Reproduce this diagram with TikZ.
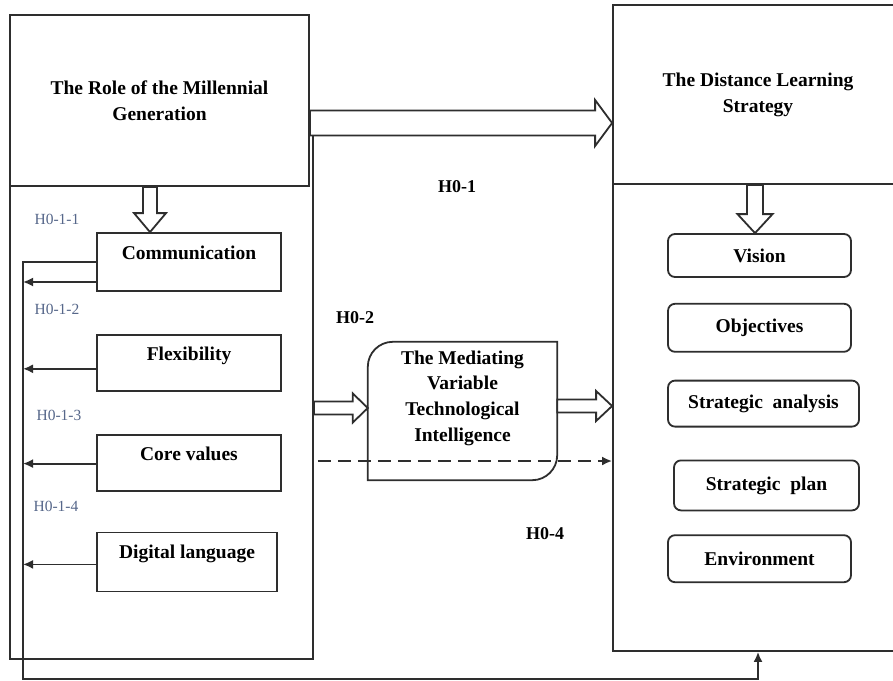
\documentclass[tikz,border=0pt]{standalone}
\usepackage{fontspec}
\setmainfont{Liberation Serif}
\usetikzlibrary{arrows.meta,positioning,calc}
\definecolor{ink}{HTML}{2E2E2E}
\definecolor{hlabel}{HTML}{56678A}

% block arrows: tail point, tip point, body half width, head half width, head length
\newcommand{\rarrow}[5]{%
  \draw[blockarrow] let \p1=#1, \p2=#2 in
    (\x1,\y1+#3) -- (\x2-#5,\y1+#3) -- (\x2-#5,\y1+#4) -- (\x2,\y1)
    -- (\x2-#5,\y1-#4) -- (\x2-#5,\y1-#3) -- (\x1,\y1-#3) -- cycle;}
\newcommand{\darrow}[5]{%
  \draw[blockarrow] let \p1=#1, \p2=#2 in
    (\x1-#3,\y1) -- (\x1-#3,\y2+#5) -- (\x1-#4,\y2+#5) -- (\x1,\y2)
    -- (\x1+#4,\y2+#5) -- (\x1+#3,\y2+#5) -- (\x1+#3,\y1) -- cycle;}

\begin{document}
\begin{tikzpicture}[
  x=1pt, y=-1pt,
  bigbox/.style={
    draw=ink, fill=white, line width=1.8pt, inner sep=0pt, align=center,
    font=\fontsize{19.5}{26}\selectfont\bfseries
  },
  item/.style={
    draw=ink, line width=1.8pt, minimum width=184pt, inner sep=0pt,
    text height=26pt, text depth=30pt, font=\fontsize{19.5}{26}\selectfont\bfseries
  },
  goal/.style={
    draw=ink, line width=1.8pt, rounded corners=7pt, minimum width=183pt,
    inner sep=0pt, font=\fontsize{19.5}{26}\selectfont\bfseries
  },
  title/.style={align=center, font=\fontsize{19.5}{25.7}\selectfont\bfseries},
  hyp/.style={font=\fontsize{18}{20}\selectfont\bfseries},
  subhyp/.style={text=hlabel, font=\fontsize{15.5}{18}\selectfont},
  arrow/.style={-{Latex[length=10pt,width=9pt]}, line width=1.8pt, draw=ink},
  dasharrow/.style={arrow, line width=2.8pt, dash pattern=on 13pt off 7pt},
  blockarrow/.style={draw=ink, fill=white, line width=1.8pt, line join=miter}
]
  \clip (0,0) rectangle (893,680);

  \node[bigbox, minimum width=303pt, minimum height=531pt] (rolebody) at (161.5,393.5) {};
  \node[bigbox, minimum width=299pt, minimum height=171pt] (role) at (159.5,100.5) {The Role of the Millennial\\Generation};
  \node[bigbox, minimum width=290pt, minimum height=467pt] (dlsbody) at (758,417.5) {};
  \node[bigbox, minimum width=290pt, minimum height=179pt] (dls) at (758,94.5) {The Distance Learning\\Strategy};

  \node[item, text depth=32pt] (comm) at (189,262) {Communication};
  \node[item, below=42pt of comm] (flex) {Flexibility};
  \node[item, below=42pt of flex] (core) {Core values};
  \node[item, minimum width=180pt, text depth=33pt, below=40pt of core.south west, anchor=north west] (dig) {Digital language};

  \node[goal, minimum height=43pt] (vision) at (759.5,255.5) {Vision};
  \node[goal, minimum height=48pt, below=25pt of vision] (obj) {Objectives};
  \node[goal, minimum width=191pt, minimum height=46pt, below=27pt of obj.south west, anchor=north west] (analysis) {Strategic\ \ analysis};
  \node[goal, minimum width=185pt, minimum height=50pt, below=32pt of analysis.south west, anchor=north west, xshift=6pt] (plan) {Strategic\ \ plan};
  \node[goal, minimum height=47pt, below=23pt of plan.south west, anchor=north west, xshift=-6pt] (env) {Environment};

  % mediating variable box, two round corners
  \node[minimum width=189pt, minimum height=138pt, inner sep=0pt] (medbox) at (462.5,411) {};
  \draw[draw=ink, line width=1.8pt] ([xshift=25pt]medbox.north west) -- (medbox.north east)
    -- ([yshift=25pt]medbox.south east) arc[start angle=0, end angle=90, radius=25]
    -- (medbox.south west) -- ([yshift=-25pt]medbox.north west)
    arc[start angle=180, end angle=270, radius=25] -- cycle;
  \node[title] (medtext) at ([yshift=13pt]medbox.center) {The Mediating\\Variable\\Technological\\Intelligence};

  \node[subhyp] (h011) at (57,219) {H0-1-1};
  \node[subhyp] (h012) at (57,309) {H0-1-2};
  \node[subhyp] (h013) at (59,415) {H0-1-3};
  \node[subhyp] (h014) at (56,506) {H0-1-4};
  \node[hyp] (h01) at (457,187) {H0-1};
  \node[hyp] (h02) at (355,318) {H0-2};
  \node[hyp] (h04) at (545,534) {H0-4};

  \rarrow{([yshift=-22.5pt]role.east)}{(dls.west)}{12.5}{23}{17}
  \rarrow{([yshift=-14.5pt]rolebody.east)}{(medbox.west)}{6.5}{14.5}{15}
  \rarrow{([yshift=5pt]medbox.east)}{(dlsbody.west)}{6.5}{15}{16}
  \darrow{([xshift=-9.5pt]role.south)}{(comm.north)}{7}{16}{19}
  \darrow{([xshift=-3pt]dls.south)}{(vision.north)}{8}{17.5}{19}

  \coordinate (fb) at (23,679);
  \draw[arrow] (comm.west) -| (fb) -| (dlsbody.south);
  \foreach \n/\s in {comm/-20,flex/-6,core/-1,dig/-2.5}
    \draw[arrow] ([yshift=\s pt]\n.west) coordinate (from) -- (from -| fb);
  \draw[dasharrow] ([xshift=4pt,yshift=-67.5pt]rolebody.east) coordinate (dashfrom) -- (dashfrom -| dlsbody.west);
\end{tikzpicture}
\end{document}
